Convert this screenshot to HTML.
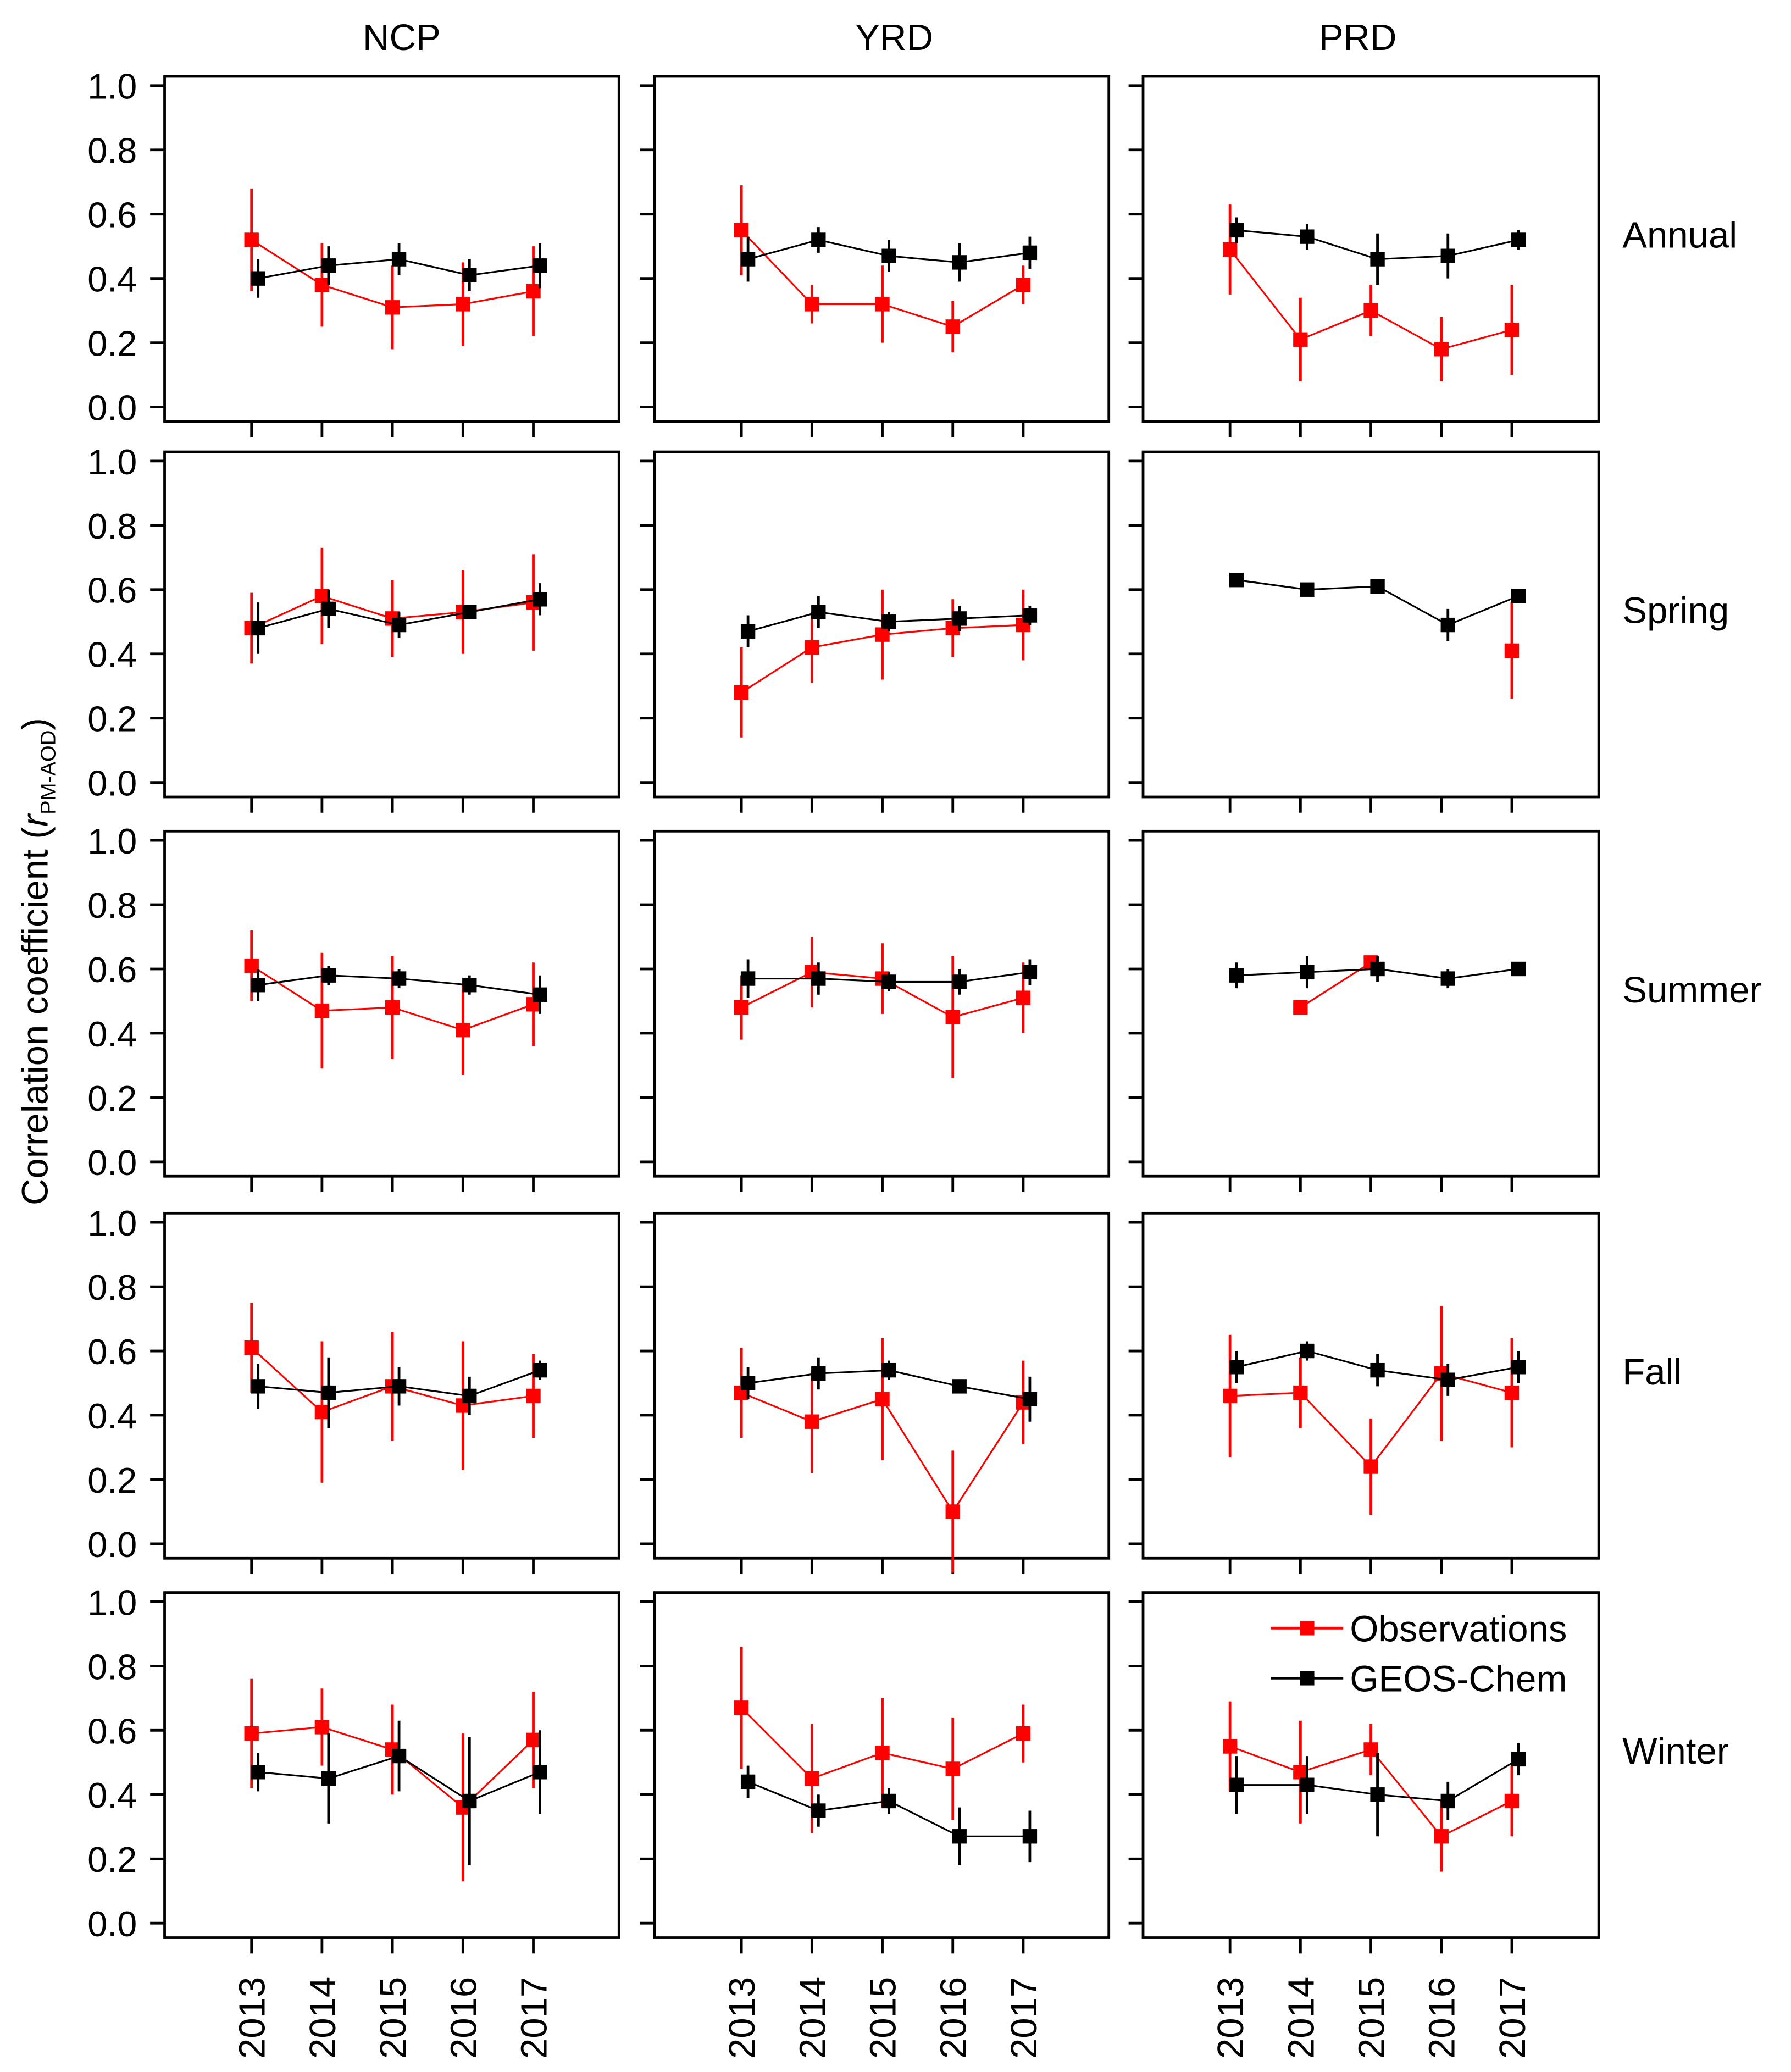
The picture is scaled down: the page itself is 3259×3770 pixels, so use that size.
<!DOCTYPE html>
<html><head><meta charset="utf-8"><style>
html,body{margin:0;padding:0;background:#fff}
svg{display:block}
text{font-family:"Liberation Sans",Arial,sans-serif;fill:#000}
</style></head><body>
<svg id="chart" width="3259" height="3770" viewBox="0 0 1360 1573" preserveAspectRatio="none" xmlns="http://www.w3.org/2000/svg"></svg>
<script>
const years = ["2013","2014","2015","2016","2017"];
const regions = ["NCP","YRD","PRD"];
const seasons = ["Annual","Spring","Summer","Fall","Winter"];
const yTicks = [0,0.2,0.4,0.6,0.8,1.0];
const yTickLabels = ["0.0","0.2","0.4","0.6","0.8","1.0"];
const obsVal = [
 [[.52,.38,.31,.32,.36],[.55,.32,.32,.25,.38],[.49,.21,.30,.18,.24]],
 [[.48,.58,.51,.53,.56],[.28,.42,.46,.48,.49],[null,null,null,null,.41]],
 [[.61,.47,.48,.41,.49],[.48,.59,.57,.45,.51],[null,.48,.62,null,null]],
 [[.61,.41,.49,.43,.46],[.47,.38,.45,.10,.44],[.46,.47,.24,.53,.47]],
 [[.59,.61,.54,.36,.57],[.67,.45,.53,.48,.59],[.55,.47,.54,.27,.38]]
];
const obsErr = [
 [[.16,.13,.13,.13,.14],[.14,.06,.12,.08,.06],[.14,.13,.08,.10,.14]],
 [[.11,.15,.12,.13,.15],[.14,.11,.14,.09,.11],[0,0,0,0,.15]],
 [[.11,.18,.16,.14,.13],[.10,.11,.11,.19,.11],[0,0,.01,0,0]],
 [[.14,.22,.17,.20,.13],[.14,.16,.19,.19,.13],[.19,.11,.15,.21,.17]],
 [[.17,.12,.14,.23,.15],[.19,.17,.17,.16,.09],[.14,.16,.08,.11,.11]]
];
const modVal = [
 [[.40,.44,.46,.41,.44],[.46,.52,.47,.45,.48],[.55,.53,.46,.47,.52]],
 [[.48,.54,.49,.53,.57],[.47,.53,.50,.51,.52],[.63,.60,.61,.49,.58]],
 [[.55,.58,.57,.55,.52],[.57,.57,.56,.56,.59],[.58,.59,.60,.57,.60]],
 [[.49,.47,.49,.46,.54],[.50,.53,.54,.49,.45],[.55,.60,.54,.51,.55]],
 [[.47,.45,.52,.38,.47],[.44,.35,.38,.27,.27],[.43,.43,.40,.38,.51]]
];
const modErr = [
 [[.06,.06,.05,.05,.07],[.07,.04,.05,.06,.05],[.04,.04,.08,.07,.03]],
 [[.08,.06,.04,.02,.05],[.05,.05,.03,.04,.03],[.01,.02,.01,.05,.02]],
 [[.05,.03,.03,.03,.06],[.06,.05,.03,.04,.04],[.04,.05,.04,.03,.02]],
 [[.07,.11,.06,.06,.03],[.05,.05,.03,.02,.07],[.05,.03,.05,.05,.05]],
 [[.06,.14,.11,.20,.13],[.05,.05,.04,.09,.08],[.09,.09,.13,.06,.05]]
];
const NS="http://www.w3.org/2000/svg";
const svg=document.getElementById('chart');
function el(tag,attrs,parent){const e=document.createElementNS(NS,tag);for(const k in attrs)e.setAttribute(k,attrs[k]);(parent||svg).appendChild(e);return e;}
const colX=[[125,470],[497,842],[868,1214]];
const rowTop=[58,343,631,921,1209];
const panelH=262;
function yScale(r,v){const y0=rowTop[r]+251, y1=rowTop[r]+7;return y0+(y1-y0)*v;}
function xScale(c,i){const x0=colX[c][0]+66;return x0+i*53.5;}
const titleX=[305,679,1031];
regions.forEach((n,c)=>{
  const t=el('text',{x:titleX[c],y:38,'text-anchor':'middle','font-size':28});
  t.textContent=n;
  
  
});
seasons.forEach((s,r)=>{
  const t=el('text',{x:1232,y:rowTop[r]+130,'font-size':28});
  t.textContent=s;
  
  
});
const yt=el('text',{transform:'translate(36,730) rotate(-90)','text-anchor':'middle','font-size':28});
yt.innerHTML='Correlation coefficient (<tspan font-style="italic">r</tspan><tspan font-size="16" dy="6">PM-AOD</tspan><tspan dy="-6">)</tspan>';


for(let r=0;r<5;r++)for(let c=0;c<3;c++){
  const g=el('g',{});
  
  
  el('rect',{x:colX[c][0],y:rowTop[r],width:colX[c][1]-colX[c][0],height:panelH,fill:'none',stroke:'#000','stroke-width':2},g);
  yTicks.forEach((v,k)=>{const y=yScale(r,v);
    el('line',{x1:colX[c][0]-11,x2:colX[c][0],y1:y,y2:y,stroke:'#000','stroke-width':2},g);
    if(c===0){const t=el('text',{x:104,y:y+10,'text-anchor':'end','font-size':27},g);t.textContent=yTickLabels[k];}
  });
  years.forEach((yr,i)=>{const x=xScale(c,i);
    el('line',{x1:x,x2:x,y1:rowTop[r]+panelH,y2:rowTop[r]+panelH+12,stroke:'#000','stroke-width':2},g);
    if(r===4){const t=el('text',{transform:`translate(${x+10},1563) rotate(-90)`,'font-size':28},g);t.textContent=yr;}
  });
  [[obsVal,obsErr,'#ff0000',0,'observations'],[modVal,modErr,'#000',5,'geos-chem']].forEach(([V,E,col,off,nm])=>{
    const vals=V[r][c], errs=E[r][c];
    let pts=[];
    vals.forEach((v,i)=>{if(v===null){if(pts.length>1)el('polyline',{points:pts.join(' '),fill:'none',stroke:col,'stroke-width':1.3},g);pts=[];return;}pts.push((xScale(c,i)+off)+','+yScale(r,v));});
    if(pts.length>1)el('polyline',{points:pts.join(' '),fill:'none',stroke:col,'stroke-width':1.3},g);
    vals.forEach((v,i)=>{if(v===null)return;const x=xScale(c,i)+off,y=yScale(r,v);
      el('line',{x1:x,x2:x,y1:yScale(r,v-errs[i]),y2:yScale(r,v+errs[i]),stroke:col,'stroke-width':2},g);
      const m=el('rect',{x:x-5.5,y:y-5.5,width:11,height:11,fill:col},g);
      
      
    });
  });
}
const lg=el('g',{});


[['Observations','#ff0000',1236],['GEOS-Chem','#000',1274]].forEach(([l,col,y])=>{
  el('line',{x1:965,x2:1020,y1:y,y2:y,stroke:col,'stroke-width':2},lg);
  el('rect',{x:987,y:y-5.5,width:11,height:11,fill:col},lg);
  const t=el('text',{x:1025,y:y+10,'font-size':28},lg);t.textContent=l;
});
</script>
</body></html>
